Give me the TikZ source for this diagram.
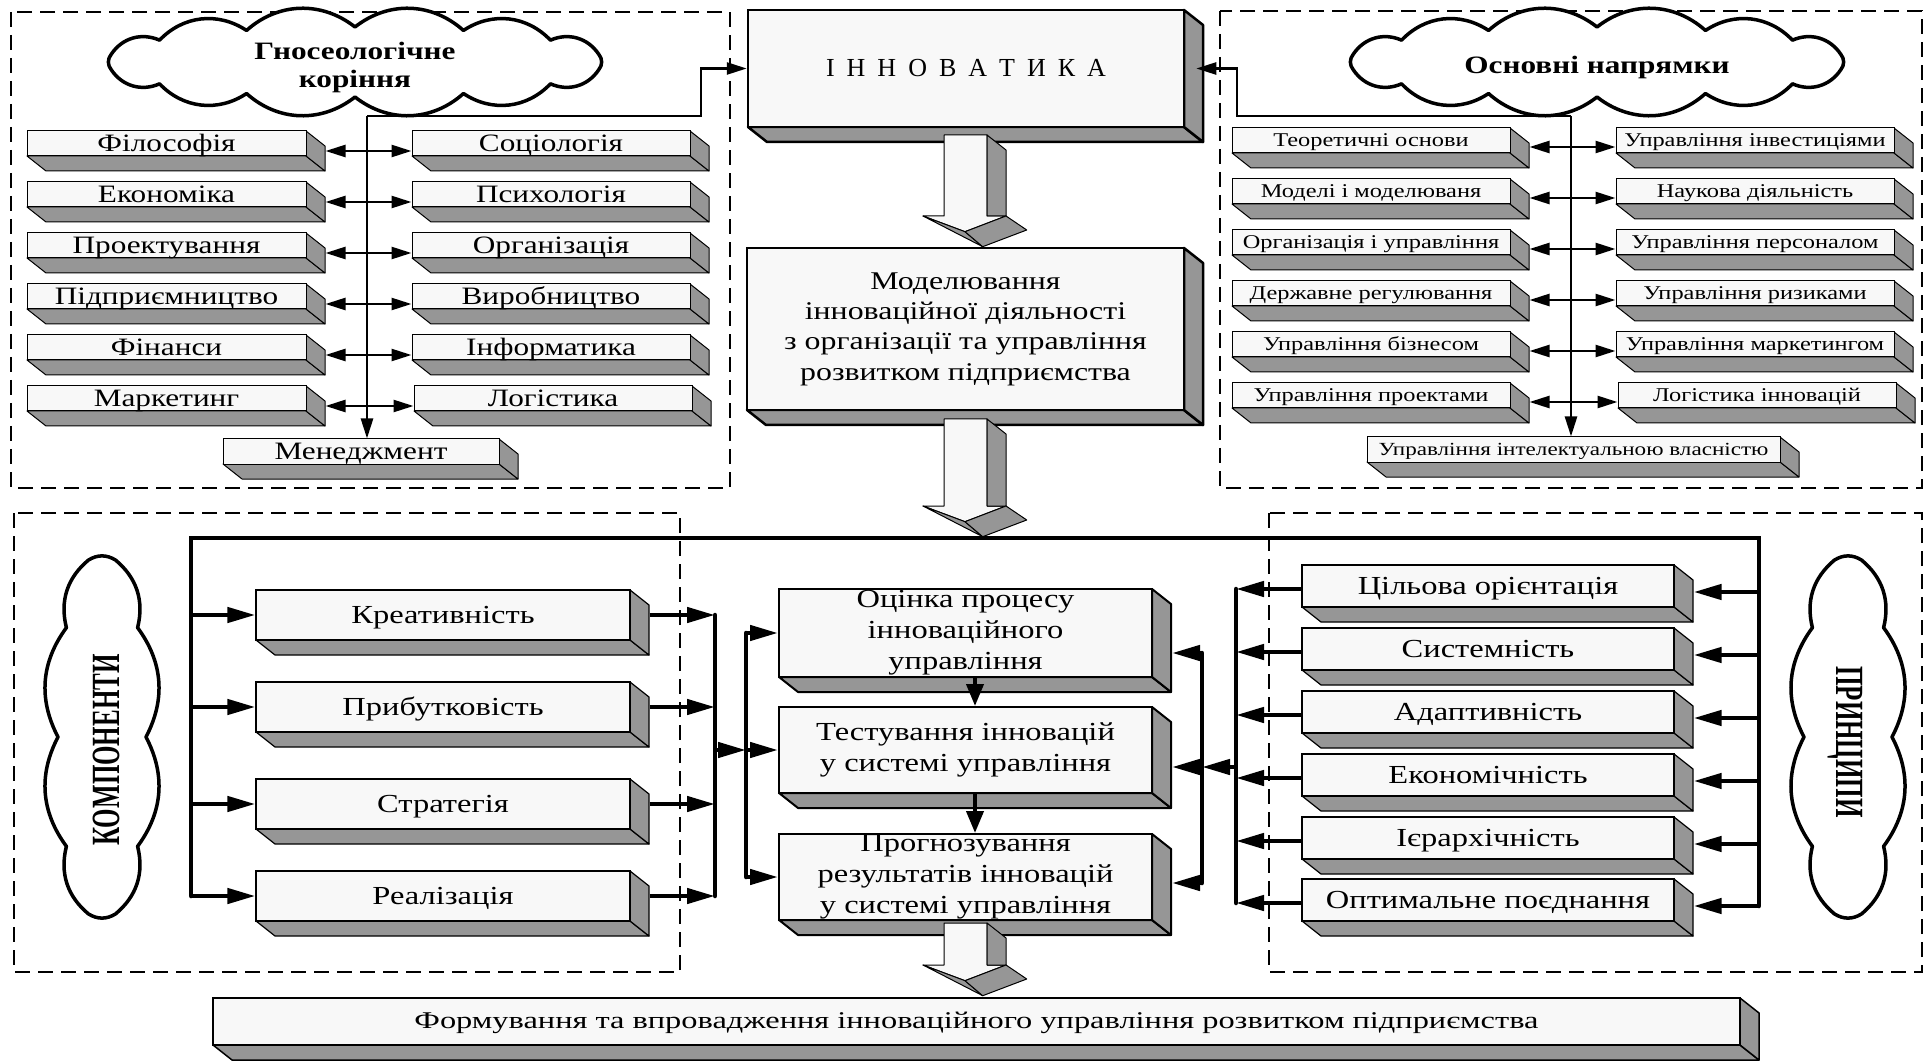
\documentclass[tikz,border=0pt]{standalone}
\usepackage{fontspec}
\setmainfont{Liberation Serif}
\newfontfamily\wf[FakeStretch=1.25]{Liberation Serif}
\newfontfamily\wfb[FakeStretch=1.35]{Liberation Serif}
\usetikzlibrary{arrows.meta,calc}
\definecolor{frontc}{RGB}{248,248,248}
\definecolor{sidec}{RGB}{150,150,150}
\newcommand\tdlw{1pt}
\newcommand\gsp{\hspace{12pt}}
% 3D bar: [node options]{name}{x1}{y1}{x2}{y2}{text}
\newcommand\tdb[7][]{%
  \fill[sidec,draw=black,line width=\tdlw,line join=round] ({#3},{#6}) -- ({#5},{#6}) -- ({#5+19},{#6+15}) -- ({#3+19},{#6+15}) -- cycle;
  \fill[sidec,draw=black,line width=\tdlw,line join=round] ({#5},{#4}) -- ({#5+19},{#4+15}) -- ({#5+19},{#6+15}) -- ({#5},{#6}) -- cycle;
  \node[dbox,line width=\tdlw,minimum width={#5-#3},minimum height={#6-#4},#1] (#2) at ({(#3+#5)/2},{(#4+#6)/2}) {#7};
}
% 3D block arrow: {x0}{ytop}{shaft length}
\newcommand\barw[3]{%
  \fill[frontc,draw=black,line width=1pt,line join=round] (#1,#2) -- ({#1+43},#2) -- ({#1+43},{#2+#3}) -- ({#1+62},{#2+#3}) -- ({#1+21},{#2+#3+15.7}) -- ({#1-21},{#2+#3}) -- (#1,{#2+#3}) -- cycle;
  \fill[sidec,draw=black,line width=1pt,line join=round] ({#1+43},#2) -- ({#1+62},{#2+15}) -- ({#1+62},{#2+#3}) -- ({#1+43},{#2+#3}) -- cycle;
  \fill[sidec,draw=black,line width=1pt,line join=round] ({#1-21},{#2+#3}) -- ({#1+21},{#2+#3+15.7}) -- ({#1+38.7},{#2+#3+30.7}) -- cycle;
  \fill[sidec,draw=black,line width=1pt,line join=round] ({#1+21},{#2+#3+15.7}) -- ({#1+62},{#2+#3}) -- ({#1+82.7},{#2+#3+14}) -- ({#1+38.7},{#2+#3+30.7}) -- cycle;
}
% cloud outline: {cx}{cy}{a}{b}{puffs}{bend}{offset}
\newcommand\cloudp[7]{%
  \draw[line width=3.5pt,fill=white,line join=round]
    ({#1+#3*cos(360*#7/#5)},{#2+#4*sin(360*#7/#5)})
    \foreach \k in {1,...,#5}{ to[bend left=#6] ({#1+#3*cos(360*(\k+#7)/#5)},{#2+#4*sin(360*(\k+#7)/#5)}) } -- cycle;
}
\tikzset{
  dbox/.style={draw=black,fill=frontc,rectangle,inner sep=0pt,align=center},
  dashr/.style={draw=black,line width=2pt,dash pattern=on 15pt off 8pt},
  sarr/.style={line width=2.5pt,-{Triangle[length=20pt,width=12pt]}},
  sdbl/.style={line width=2.5pt,{Triangle[length=20pt,width=12pt]}-{Triangle[length=20pt,width=12pt]}},
  barr/.style={line width=4.5pt,-{Triangle[length=28pt,width=15pt]}},
  marr/.style={line width=4pt,-{Triangle[length=22pt,width=17pt]}},
  thk/.style={line width=4.5pt,line cap=round},
  ctext/.style={align=center,inner sep=0pt},
  tlf/.style={font=\wf\fontsize{25}{28}\selectfont,text height=18pt,text depth=2pt},
  trf/.style={font=\wf\fontsize{19.5}{22}\selectfont,text height=14pt,text depth=2pt},
  cpf/.style={font=\wf\fontsize{26}{30}\selectfont,text height=19pt,text depth=3pt},
  ctf/.style={font=\wf\fontsize{26}{31}\selectfont},
}
\begin{document}
\begin{tikzpicture}[x=1pt,y=-1pt]
\useasboundingbox (0,0) rectangle (1928,1064);
\fill[white] (0,0) rectangle (1928,1064);

% dashed panels
\draw[dashr] (11,12) rectangle (730,488);
\draw[dashr] (1220,11) rectangle (1922,488);
\draw[dashr] (14,513) rectangle (680,972);
\draw[dashr] (1269,513) rectangle (1922,972);

% clouds
\cloudp{355}{62}{250}{35}{14}{40}{0.5}
\node[ctext,font=\wf\bfseries\fontsize{25}{28}\selectfont] (cg) at (355,67) {Гносеологічне\\коріння};
\cloudp{1597}{62}{250}{35}{14}{40}{0.5}
\node[ctext,font=\wf\bfseries\fontsize{25}{28}\selectfont] (cn) at (1597,67) {Основні напрямки};
\cloudp{102}{737}{44}{186}{10}{32}{0}
\node[ctext,font=\bfseries\fontsize{25}{28}\selectfont] (ck) at (106,750) {\rotatebox{90}{\scalebox{1}[1.6]{КОМПОНЕНТИ}}};
\cloudp{1848}{737}{44}{186}{10}{32}{0}
\node[ctext,font=\bfseries\fontsize{25}{28}\selectfont] (cp) at (1845,742) {\rotatebox{-90}{\scalebox{1}[1.6]{ПРИНЦИПИ}}};

% top-left boxes
\tdb[tlf]{l1}{27}{131}{306}{156}{Філософія}
\tdb[tlf]{l2}{27}{182}{306}{207}{Економіка}
\tdb[tlf]{l3}{27}{233}{306}{258}{Проектування}
\tdb[tlf]{l4}{27}{284}{306}{309}{Підприємництво}
\tdb[tlf]{l5}{27}{335}{306}{360}{Фінанси}
\tdb[tlf]{l6}{27}{386}{306}{411}{Маркетинг}
\tdb[tlf]{r1}{412}{131}{690}{156}{Соціологія}
\tdb[tlf]{r2}{412}{182}{690}{207}{Психологія}
\tdb[tlf]{r3}{412}{233}{690}{258}{Організація}
\tdb[tlf]{r4}{412}{284}{690}{309}{Виробництво}
\tdb[tlf]{r5}{412}{335}{690}{360}{Інформатика}
\tdb[tlf]{r6}{414}{386}{692}{411}{Логістика}
\tdb[tlf]{mg}{223}{439}{499}{464}{Менеджмент}

% top-right boxes
\tdb[trf]{a1}{1232}{128}{1510}{153}{Теоретичні основи}
\tdb[trf]{a2}{1232}{179}{1510}{204}{Моделі і моделюваня}
\tdb[trf]{a3}{1232}{230}{1510}{255}{Організація і управління}
\tdb[trf]{a4}{1232}{281}{1510}{306}{Державне регулювання}
\tdb[trf]{a5}{1232}{332}{1510}{357}{Управління бізнесом}
\tdb[trf]{a6}{1232}{383}{1510}{408}{Управління проектами}
\tdb[trf]{b1}{1616}{128}{1894}{153}{Управління інвестиціями}
\tdb[trf]{b2}{1616}{179}{1894}{204}{Наукова діяльність}
\tdb[trf]{b3}{1616}{230}{1894}{255}{Управління персоналом}
\tdb[trf]{b4}{1616}{281}{1894}{306}{Управління ризиками}
\tdb[trf]{b5}{1616}{332}{1894}{357}{Управління маркетингом}
\tdb[trf]{b6}{1618}{383}{1896}{408}{Логістика інновацій}
\tdb[trf,font=\wf\fontsize{18.5}{22}\selectfont]{ip}{1367}{437}{1780}{462}{Управління інтелектуальною власністю}

% central column
\renewcommand\tdlw{2.5pt}
\tdb[font=\fontsize{26}{30}\selectfont]{inn}{748}{10}{1184}{127}{І\gsp Н\gsp Н\gsp О\gsp В\gsp А\gsp Т\gsp И\gsp К\gsp А}
\tdb[font=\wf\fontsize{25.5}{30.3}\selectfont]{mod}{747}{248}{1184}{410}{Моделювання\\інноваційної діяльності\\з організації та управління\\розвитком підприємства}
\renewcommand\tdlw{2pt}
\tdb[ctf]{t1}{779}{589}{1152}{677}{Оцінка процесу\\інноваційного\\управління}
\tdb[ctf]{t2}{779}{707}{1152}{793}{Тестування інновацій\\у системі управління}
\tdb[ctf]{t3}{779}{834}{1152}{920}{Прогнозування\\результатів інновацій\\у системі управління}
\renewcommand\tdlw{1.5pt}
\tdb[font=\wfb\fontsize{24}{30}\selectfont,text height=17pt,text depth=3pt]{fin}{213}{998}{1740}{1045}{Формування та впровадження інноваційного управління розвитком підприємства}

% components and principles
\renewcommand\tdlw{1.2pt}
\tdb[cpf]{c1}{256}{590}{630}{640}{Креативність}
\tdb[cpf]{c2}{256}{682}{630}{732}{Прибутковість}
\tdb[cpf]{c3}{256}{779}{630}{829}{Стратегія}
\tdb[cpf]{c4}{256}{871}{630}{921}{Реалізація}
\tdb[cpf]{p1}{1302}{565}{1674}{607}{Цільова орієнтація}
\tdb[cpf]{p2}{1302}{628}{1674}{670}{Системність}
\tdb[cpf]{p3}{1302}{691}{1674}{733}{Адаптивність}
\tdb[cpf]{p4}{1302}{754}{1674}{796}{Економічність}
\tdb[cpf]{p5}{1302}{817}{1674}{859}{Ієрархічність}
\tdb[cpf]{p6}{1302}{879}{1674}{921}{Оптимальне поєднання}

% block arrows
\barw{944}{135}{81}
\barw{944}{419}{87}
\barw{944}{923}{42}

% top-left connectors
\coordinate (jL) at (367,116);
\coordinate (kL) at (701,116);
\draw[sarr] (jL) -- (jL |- mg.north);
\draw[sarr,line join=miter] (jL) -- (kL) -- (kL |- inn.west) -- (inn.west);
\foreach \i in {1,...,6}{
  \draw[sdbl] ([shift={(19,7.5)}]l\i.east) -- ([shift={(0,7.5)}]r\i.west);
}
% top-right connectors
\coordinate (jR) at (1571,116);
\coordinate (kR) at (1237,116);
\draw[sarr] (jR) -- (jR |- ip.north);
\draw[sarr,line join=miter] (jR) -- (kR) -- (kR |- inn.east) -- ($(inn.east)+(11,0)$);
\foreach \i in {1,...,6}{
  \draw[sdbl] ([shift={(19,6.5)}]a\i.east) -- ([shift={(0,6.5)}]b\i.west);
}

% frame
\coordinate (fL) at (191,538);
\coordinate (fR) at (1759,538);
\coordinate (cL) at (715,538);
\coordinate (bL) at (746,538);
\coordinate (bR) at (1202,538);
\coordinate (cR) at (1236,538);
\coordinate (p6r) at ($(p6.east)+(19,6)$);
\draw[thk,line join=miter] (fL |- c4.west) -- (fL) -- (fR) -- (fR |- p6r);

% components
\foreach \i in {1,...,4}{
  \draw[barr] (fL |- c\i.west) -- (c\i.west);
  \draw[barr] ([xshift=19pt]c\i.east) -- (cL |- c\i.west);
}
\draw[thk] (cL |- c1.west) -- (cL |- c4.west);
\draw[barr] (cL |- t2.west) -- (bL |- t2.west);
\draw[thk] (bL |- t1.west) -- (bL |- t3.west);
\foreach \i in {1,2,3}{
  \draw[barr] (bL |- t\i.west) -- (t\i.west);
}
\draw[marr] ([xshift=9.5pt]t1.south) -- ([xshift=9.5pt]t2.north);
\draw[marr] ([xshift=9.5pt]t2.south) -- ([xshift=9.5pt]t3.north);

% principles
\foreach \i in {1,...,6}{
  \coordinate (pr\i) at ($(p\i.east)+(19,6)$);
  \coordinate (pl\i) at ($(p\i.west)+(0,3)$);
  \draw[barr] (fR |- pr\i) -- (pr\i);
  \draw[barr] (pl\i) -- (cR |- pl\i);
}
\draw[thk] (cR |- pl1) -- (cR |- pl6);
\coordinate (t1r) at ($(t1.east)+(19,20)$);
\coordinate (t2r) at ($(t2.east)+(19,17)$);
\coordinate (t3r) at ($(t3.east)+(19,6)$);
\draw[thk] (bR |- t1r) -- (bR |- t3r);
\draw[barr] (cR |- t2r) -- (bR |- t2r);
\foreach \i in {1,2,3}{
  \draw[barr] (bR |- t\i r) -- (t\i r);
}
\end{tikzpicture}
\end{document}
